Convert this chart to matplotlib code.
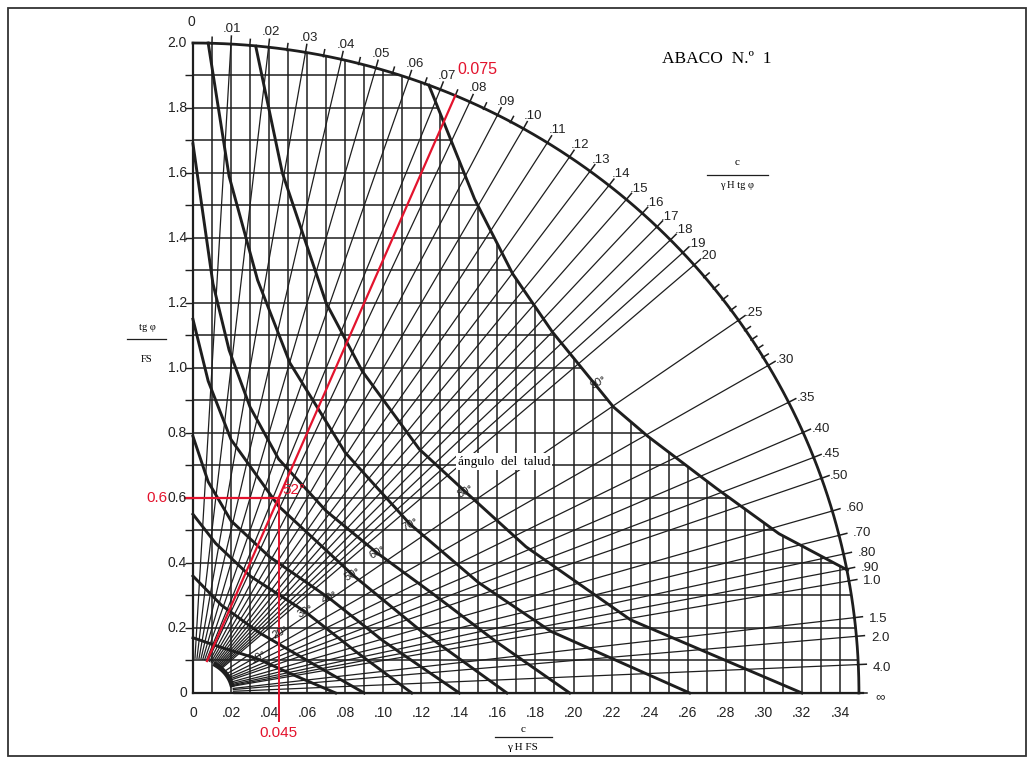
import numpy as np
import matplotlib
matplotlib.use("Agg")
import matplotlib.pyplot as plt
from matplotlib.patches import Polygon, Rectangle

# ---- chart data ----
x_ticks = [0, .02, .04, .06, .08, .10, .12, .14, .16, .18, .20, .22, .24, .26, .28, .30, .32, .34]
x_tick_labels = ['0', '.02', '.04', '.06', '.08', '.10', '.12', '.14', '.16', '.18', '.20',
                 '.22', '.24', '.26', '.28', '.30', '.32', '.34']
y_ticks = [0, 0.2, 0.4, 0.6, 0.8, 1.0, 1.2, 1.4, 1.6, 1.8, 2.0]
y_tick_labels = ['0', '0.2', '0.4', '0.6', '0.8', '1.0', '1.2', '1.4', '1.6', '1.8', '2.0']

# c / (gamma H tg phi) values on the outer scale
ratio_values = [0.01, 0.02, 0.03, 0.04, 0.05, 0.06, 0.07, 0.08, 0.09, 0.10,
                0.11, 0.12, 0.13, 0.14, 0.15, 0.16, 0.17, 0.18, 0.19, 0.20,
                0.25, 0.30, 0.35, 0.40, 0.45, 0.50, 0.60, 0.70, 0.80, 0.90,
                1.0, 1.5, 2.0, 4.0, np.inf]
ratio_labels = ['.01', '.02', '.03', '.04', '.05', '.06', '.07', '.08', '.09', '.10',
                '.11', '.12', '.13', '.14', '.15', '.16', '.17', '.18', '.19', '.20',
                '.25', '.30', '.35', '.40', '.45', '.50', '.60', '.70', '.80', '.90',
                '1.0', '1.5', '2.0', '4.0', '\u221e']
minor_ratio_ticks = [0.005, 0.015, 0.025, 0.035, 0.045, 0.055, 0.065, 0.075, 0.085, 0.095,
                     0.21, 0.22, 0.23, 0.24, 0.26, 0.27, 0.28, 0.29]

# slope angle curves (angulo del talud)
slope_angles = ['90\u00b0', '80\u00b0', '70\u00b0', '60\u00b0', '50\u00b0', '40\u00b0',
                '30\u00b0', '20\u00b0', '10\u00b0']
curve_x = [
    [0.124, 0.148, 0.168, 0.189, 0.221, 0.239, 0.275, 0.308, 0.344],
    [0.033, 0.047, 0.070, 0.089, 0.119, 0.143, 0.175, 0.230, 0.320],
    [0.008, 0.019, 0.034, 0.051, 0.080, 0.114, 0.150, 0.188, 0.261],
    [0.0, 0.0105, 0.019, 0.030, 0.045, 0.070, 0.097, 0.125, 0.160, 0.198],
    [0.0, 0.008, 0.020, 0.045, 0.084, 0.120, 0.165],
    [0.0, 0.008, 0.020, 0.040, 0.072, 0.100, 0.140],
    [0.0, 0.012, 0.030, 0.059, 0.085, 0.115],
    [0.0, 0.015, 0.035, 0.060, 0.090],
    [0.0, 0.015, 0.034, 0.055, 0.075],
]
curve_y = [
    [1.87, 1.52, 1.29, 1.11, 0.88, 0.79, 0.63, 0.49, 0.378],
    [1.99, 1.60, 1.20, 0.99, 0.75, 0.62, 0.45, 0.225, 0.0],
    [2.0, 1.59, 1.27, 1.015, 0.74, 0.52, 0.34, 0.19, 0.0],
    [1.69, 1.26, 1.055, 0.88, 0.72, 0.56, 0.43, 0.31, 0.155, 0.0],
    [1.15, 0.96, 0.78, 0.575, 0.363, 0.19, 0.0],
    [0.79, 0.65, 0.53, 0.42, 0.29, 0.16, 0.0],
    [0.55, 0.46, 0.36, 0.25, 0.13, 0.0],
    [0.36, 0.27, 0.185, 0.10, 0.0],
    [0.17, 0.14, 0.105, 0.05, 0.0],
]
slope_label_pos = [(0.213, 0.957), (0.143, 0.62), (0.114, 0.52), (0.097, 0.432),
                   (0.084, 0.365), (0.072, 0.295), (0.059, 0.25), (0.046, 0.187), (0.034, 0.11)]

# worked example in red
ex_ratio = 0.075
ex_x = 0.045
ex_y = 0.6
ex_angle = '52\u00b0'

# ---- geometry of the abacus ----
A_OUT, B_OUT = 0.35, 2.0
A_IN, B_IN = 0.021, 0.105
XLIM = (-0.1014, 0.4420)
YLIM = (-0.2062, 2.1323)
W, H = 1034, 760
SX = W / (XLIM[1] - XLIM[0])
SY = H / (YLIM[1] - YLIM[0])
INK = '#1e1e1e'
RED = '#e3132d'


def on_ellipse(k, a, b):
    if np.isinf(k):
        return a, 0.0
    y = 1.0 / np.sqrt((k / a) ** 2 + (1.0 / b) ** 2)
    return k * y, y


def normal_px(x, y):
    nx = x / A_OUT ** 2 / SX
    ny = y / B_OUT ** 2 / SY
    n = np.hypot(nx, ny)
    return nx / n, ny / n


fig = plt.figure(figsize=(W / 100, H / 100), dpi=100)
ax = fig.add_axes([0, 0, 1, 1])
ax.set_xlim(*XLIM)
ax.set_ylim(*YLIM)
ax.axis('off')

# outer frame of the page
fig.patches.append(Rectangle((8 / W, 4 / H), (1026 - 8) / W, (752 - 4) / H,
                             transform=fig.transFigure, fill=False, lw=1.3, ec='#333333'))

# clip region for the grid: under outer arc and under the 90 deg curve
t = np.linspace(0, np.arcsin(curve_x[0][0] / A_OUT), 30)
top_arc = np.column_stack([A_OUT * np.sin(t), B_OUT * np.cos(t)])
t2 = np.linspace(np.arccos(curve_y[0][-1] / B_OUT), np.pi / 2, 30)
low_arc = np.column_stack([A_OUT * np.sin(t2), B_OUT * np.cos(t2)])
c90 = np.column_stack([curve_x[0], curve_y[0]])
clip_verts = np.vstack([[[0, 0]], top_arc, c90, low_arc, [[0, 0]]])
clip_patch = Polygon(clip_verts, closed=True, fc='none', ec='none')
ax.add_patch(clip_patch)

vl = ax.vlines(np.arange(1, 35) * 0.01, 0, 2.0, colors=INK, lw=1.1)
hl = ax.hlines(np.arange(1, 20) * 0.1, 0, 0.35, colors=INK, lw=1.1)
vl.set_clip_path(clip_patch)
hl.set_clip_path(clip_patch)

# small ticks on the y axis
ax.hlines(np.arange(1, 20) * 0.1, -0.004, 0, colors=INK, lw=1.0)

# radial lines c/(gamma H tg phi) = const
for k in ratio_values:
    x0, y0 = on_ellipse(k, A_IN, B_IN)
    x1, y1 = on_ellipse(k, A_OUT, B_OUT)
    ax.plot([x0, x1], [y0, y1], color=INK, lw=0.9, solid_capstyle='butt')

# inner arc (start of radial lines)
ti = np.linspace(0, np.pi / 2, 40)
ax.plot(A_IN * np.sin(ti[15:34]), B_IN * np.cos(ti[15:34]), color=INK, lw=3.5)

# outer arc
to = np.linspace(0, np.pi / 2, 200)
ax.plot(A_OUT * np.sin(to), B_OUT * np.cos(to), color=INK, lw=2.0)

# ticks and labels on the outer scale
for k in list(ratio_values) + minor_ratio_ticks:
    x1, y1 = on_ellipse(k, A_OUT, B_OUT)
    nx, ny = normal_px(x1, y1)
    L = 8 if k in ratio_values else 6
    ax.plot([x1 - 1 * nx / SX, x1 + L * nx / SX], [y1 - 1 * ny / SY, y1 + L * ny / SY],
            color=INK, lw=1.1)
for k, lab in zip(ratio_values, ratio_labels):
    x1, y1 = on_ellipse(k, A_OUT, B_OUT)
    nx, ny = normal_px(x1, y1)
    d = 19 if len(lab) > 1 else 16
    if k >= 0.6:
        d += 5
    ax.text(x1 + d * nx / SX, y1 + d * ny / SY - 4 / SY, lab, ha='center', va='center',
            fontsize=9.5, family='Liberation Sans', color='#222222')
ax.text(-2 / SX, 2.0 + 21 / SY, '0', ha='center', va='center', fontsize=10,
        family='Liberation Sans', color='#222222')

# slope angle curves
for xs, ys in zip(curve_x, curve_y):
    ax.plot(xs, ys, color=INK, lw=2.1, solid_joinstyle='round')
for (lx, ly), lab in zip(slope_label_pos, slope_angles):
    ax.text(lx, ly, lab, fontsize=8, rotation=28, ha='center', va='center',
            family='Liberation Sans', color='#1a1a1a')

# axes
ax.plot([0, 0], [0, 2.0], color=INK, lw=1.6)
ax.plot([0, A_OUT + 0.002], [0, 0], color=INK, lw=1.6)
for xv, lab in zip(x_ticks, x_tick_labels):
    ax.text(xv, -20 / SY, lab, ha='center', va='center', fontsize=10,
            family='Liberation Sans', color='#222222')
for yv, lab in zip(y_ticks, y_tick_labels):
    ax.text(-6 / SX, yv, lab, ha='right', va='center', fontsize=10,
            family='Liberation Sans', color='#222222')

# axis titles (fractions)
serif = 'Liberation Serif'
ax.text(-46 / SX, 1.126, 'tg \u03c6', ha='center', va='center', fontsize=7.5, family=serif)
ax.plot([-66 / SX, -27 / SX], [1.089, 1.089], color=INK, lw=0.9)
ax.text(-46 / SX, 1.025, 'FS', ha='center', va='center', fontsize=7.5, family=serif)

ax.text(0.1734, -37 / SY, 'c', ha='center', va='center', fontsize=8, family=serif)
ax.plot([0.1586, 0.1886], [-44 / SY, -44 / SY], color=INK, lw=0.9)
ax.text(0.1734, -55 / SY, '\u03b3 H FS', ha='center', va='center', fontsize=8, family=serif)

ax.text(0.2859, 1.631, 'c', ha='center', va='center', fontsize=8, family=serif)
ax.plot([0.270, 0.302], [1.594, 1.594], color=INK, lw=0.9)
ax.text(0.2859, 1.563, '\u03b3 H tg \u03c6', ha='center', va='center', fontsize=7.5, family=serif)

ax.text(0.2755, 1.95, 'ABACO  N.\u00ba  1', ha='center', va='center', fontsize=12.5, family=serif)
ax.text(0.1635, 0.712, '\u00e1ngulo  del  talud', ha='center', va='center', fontsize=9.5,
        family=serif, bbox=dict(fc='white', ec='none', pad=1.5))

# worked example
ex0 = on_ellipse(ex_ratio, A_IN, B_IN)
ex1 = on_ellipse(ex_ratio, A_OUT, B_OUT)
ax.plot([ex0[0], ex1[0]], [ex0[1], ex1[1]], color=RED, lw=1.6)
ax.plot([-0.004, ex_x], [ex_y, ex_y], color=RED, lw=1.6)
ax.plot([ex_x, ex_x], [ex_y, -28 / SY], color=RED, lw=1.4)
ax.text(ex1[0] + 2 / SX, ex1[1] + 26 / SY, '0.075', color=RED, fontsize=11.5,
        family='Liberation Sans', ha='left', va='center')
ax.text(-25 / SX, ex_y, '0.6', color=RED, fontsize=11, family='Liberation Sans',
        ha='right', va='center')
ax.text(ex_x + 4 / SX, ex_y + 0.025, ex_angle, color=RED, fontsize=11,
        family='Liberation Sans', ha='left', va='center')
ax.text(ex_x, -40 / SY, '0.045', color=RED, fontsize=11, family='Liberation Sans',
        ha='center', va='center')

fig.savefig('out.png', dpi=100, facecolor='white')
